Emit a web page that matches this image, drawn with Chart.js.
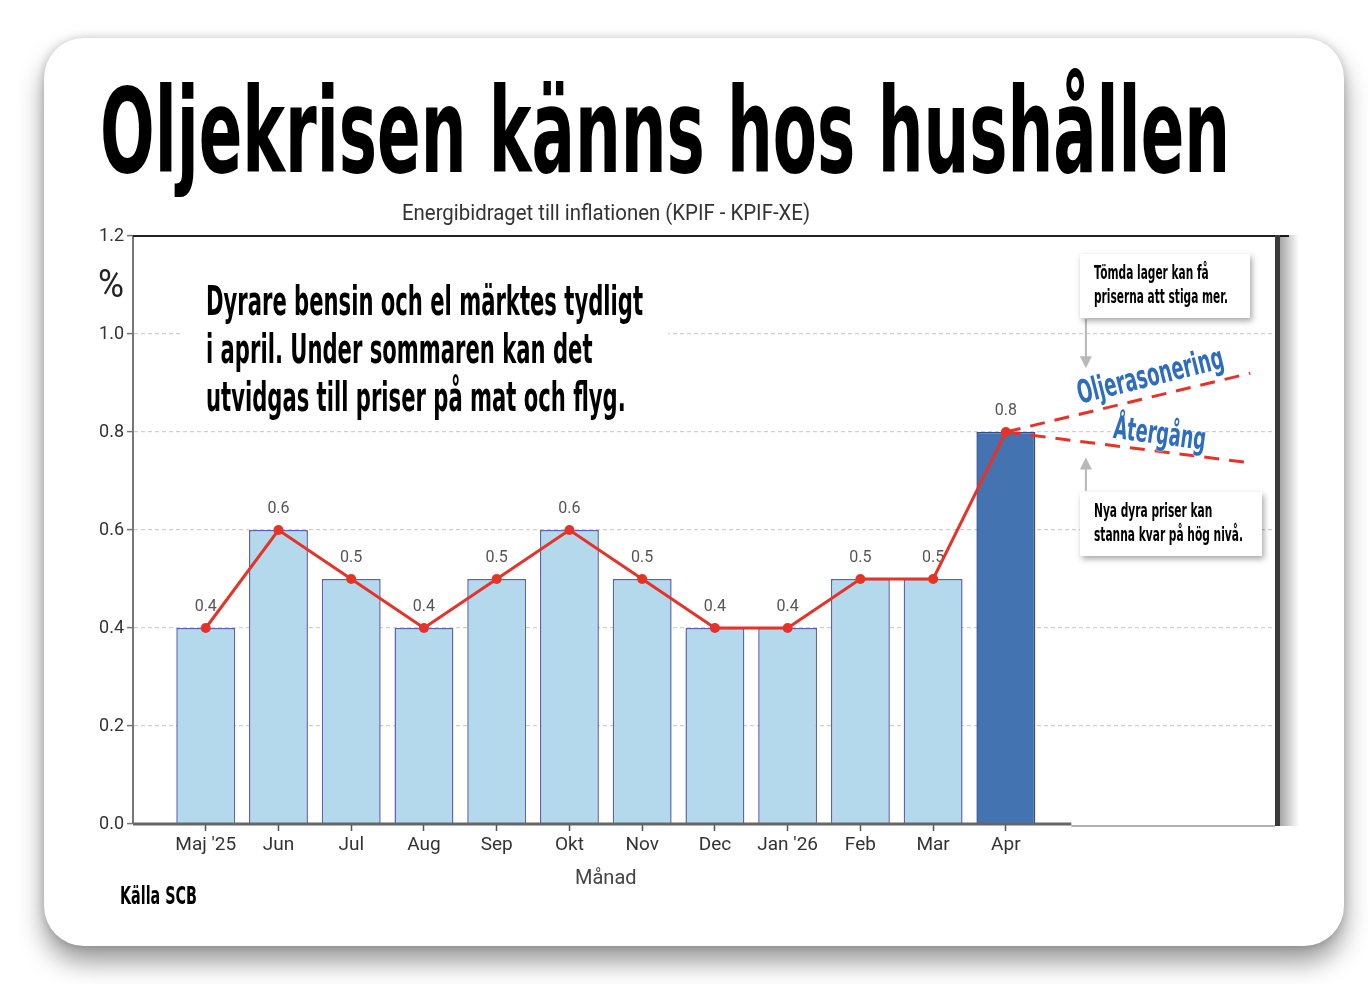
<!DOCTYPE html>
<html lang="sv"><head><meta charset="utf-8">
<script src="https://cdn.jsdelivr.net/npm/chart.js@4.4.1/dist/chart.umd.min.js"></script>
<style>
html,body{margin:0;padding:0;background:#fff;width:1368px;height:984px;overflow:hidden;}
#card{position:absolute;left:44px;top:38px;width:1300px;height:908px;background:#fff;border-radius:40px;
  box-shadow:0 16px 26px rgba(0,0,0,0.40),0 0 10px rgba(0,0,0,0.18);}
#cv{position:absolute;left:0;top:0;}
.ov{position:absolute;white-space:nowrap;transform-origin:0 0;
  font-family:'DejaVu Sans','Roboto',sans-serif;}
.b{font-weight:bold;}
#title{left:100px;top:73px;font-size:117px;line-height:117px;color:#000;}
#sub{font-size:22px;line-height:26px;color:#333;font-family:'Roboto',sans-serif;}
#pct{left:98px;top:264px;font-size:38px;line-height:40px;color:#222;font-family:'Roboto',sans-serif;}
#maskBox{position:absolute;left:182px;top:270px;width:486px;height:150px;background:#fff;}
#para{left:206px;top:277px;font-size:40px;line-height:48px;color:#000;}
.box{position:absolute;background:#fff;box-shadow:2px 3px 6px rgba(0,0,0,0.35);}
.boxtxt{font-size:19px;line-height:24px;color:#000;}
.blue{font-size:32px;line-height:36px;color:#2d6cbf;font-weight:bold;
  text-shadow:0 0 2px #fff,0 0 2px #fff;}
#src{left:120px;top:881px;font-size:24px;line-height:30px;color:#000;}
</style></head>
<body>
<div id="card"></div>
<canvas id="cv" width="1368" height="984"></canvas>
<div class="ov b" id="title">Oljekrisen känns hos hushållen</div>
<div class="ov" id="sub">Energibidraget till inflationen (KPIF - KPIF-XE)</div>
<div class="ov" id="pct">%</div>
<div id="maskBox"></div>
<div class="ov b" id="para"><div>Dyrare bensin och el märktes tydligt</div><div>i april. Under sommaren kan det</div><div>utvidgas till priser på mat och flyg.</div></div>
<div class="box" style="left:1080px;top:254px;width:170px;height:64px;"></div>
<div class="ov b boxtxt" id="bt1" style="left:1094px;top:260px;"><div>Tömda lager kan få</div><div>priserna att stiga mer.</div></div>
<div class="box" style="left:1080px;top:492px;width:182px;height:64px;"></div>
<div class="ov b boxtxt" id="bt2" style="left:1094px;top:498px;"><div>Nya dyra priser kan</div><div>stanna kvar på hög nivå.</div></div>
<div class="ov blue" id="blueUp" style="left:0;top:0;">Oljerasonering</div>
<div class="ov blue" id="blueDown" style="left:0;top:0;">Återgång</div>
<div class="ov b" id="src">Källa SCB</div>
<script>
const months = ["Maj '25","Jun","Jul","Aug","Sep","Okt","Nov","Dec","Jan '26","Feb","Mar","Apr"];
const values = [0.4,0.6,0.5,0.4,0.5,0.6,0.5,0.4,0.4,0.5,0.5,0.8];
const highlightMonth = "Apr";
const yTicks = [0.0,0.2,0.4,0.6,0.8,1.0,1.2];
const scenarioX = [11, 14.36];
const upperScenario = [0.8, 0.92];
const lowerScenario = [0.8, 0.737];

const FONT = "'Roboto',sans-serif";
const barFill = months.map(m => m === highlightMonth ? '#4473b2' : '#b4d9ed');
const barBorder = months.map(m => m === highlightMonth ? '#2f4f92' : '#5b63b3');

const valueLabels = {
  id: 'valueLabels',
  afterDatasetDraw(chart, args) {
    if (args.index !== 0) return;
    const ctx = chart.ctx;
    ctx.save();
    ctx.font = '16px ' + FONT;
    ctx.fillStyle = '#555';
    ctx.textAlign = 'center';
    ctx.textBaseline = 'middle';
    args.meta.data.forEach((bar, i) => {
      ctx.fillText(values[i].toFixed(1), bar.x, bar.y - 21);
    });
    ctx.restore();
  }
};

const frame = {
  id: 'frame',
  afterDraw(chart) {
    const ctx = chart.ctx, a = chart.chartArea, xs = chart.scales.x, ys = chart.scales.y;
    ctx.save();
    ctx.strokeStyle = '#222'; ctx.lineWidth = 2;
    ctx.beginPath(); ctx.moveTo(a.left, a.top); ctx.lineTo(a.right + 14, a.top); ctx.stroke();
    const x0 = ys.getPixelForValue(0);
    const split = xs.getPixelForValue(11.9);
    ctx.strokeStyle = '#666'; ctx.lineWidth = 3;
    ctx.beginPath(); ctx.moveTo(a.left, x0); ctx.lineTo(split, x0); ctx.stroke();
    ctx.strokeStyle = '#999'; ctx.lineWidth = 1.5;
    ctx.beginPath(); ctx.moveTo(split, x0 + 2); ctx.lineTo(a.right, x0 + 2); ctx.stroke();
    ctx.fillStyle = '#3a3a3a';
    ctx.fillRect(a.right, a.top - 1, 5, a.bottom - a.top + 3);
    const g = ctx.createLinearGradient(a.right + 5, 0, a.right + 24, 0);
    g.addColorStop(0, 'rgba(0,0,0,0.35)'); g.addColorStop(1, 'rgba(0,0,0,0)');
    ctx.fillStyle = g;
    ctx.fillRect(a.right + 5, a.top - 1, 19, a.bottom - a.top + 3);
    ctx.font = '20px ' + FONT; ctx.fillStyle = '#444';
    ctx.textAlign = 'center'; ctx.textBaseline = 'middle';
    ctx.fillText('Månad', xs.getPixelForValue((months.length - 1) / 2), 879);
    const ax = xs.getPixelForValue(12.1);
    ctx.strokeStyle = '#b8b8b8'; ctx.fillStyle = '#b8b8b8'; ctx.lineWidth = 2;
    const arrow = (yFrom, yTo) => {
      const p1 = ys.getPixelForValue(yFrom), p2 = ys.getPixelForValue(yTo);
      const dir = p2 > p1 ? 1 : -1;
      ctx.beginPath(); ctx.moveTo(ax, p1); ctx.lineTo(ax, p2 - dir * 10); ctx.stroke();
      ctx.beginPath(); ctx.moveTo(ax, p2); ctx.lineTo(ax - 6, p2 - dir * 12); ctx.lineTo(ax + 6, p2 - dir * 12); ctx.closePath(); ctx.fill();
    };
    arrow(1.03, 0.93);
    arrow(0.68, 0.748);
    ctx.restore();
  }
};

const chart = new Chart(document.getElementById('cv'), {
  type: 'bar',
  data: {
    datasets: [
      {
        type: 'bar', order: 3,
        data: months.map((m, i) => ({ x: i, y: values[i] })),
        backgroundColor: barFill, borderColor: barBorder, borderWidth: 1.5,
        categoryPercentage: 1, barPercentage: 0.81
      },
      {
        type: 'line', order: 2,
        data: months.map((m, i) => ({ x: i, y: values[i] })),
        borderColor: '#e5332a', backgroundColor: '#e5332a', borderWidth: 3,
        pointRadius: 5, pointBackgroundColor: '#e5332a', pointBorderWidth: 0, tension: 0
      },
      {
        type: 'line', order: 1,
        data: scenarioX.map((x, i) => ({ x, y: upperScenario[i] })),
        borderColor: '#e5332a', borderWidth: 3, borderDash: [15, 10], pointRadius: 0
      },
      {
        type: 'line', order: 1,
        data: scenarioX.map((x, i) => ({ x, y: lowerScenario[i] })),
        borderColor: '#e5332a', borderWidth: 3, borderDash: [15, 10], pointRadius: 0
      }
    ]
  },
  options: {
    responsive: false, animation: false, devicePixelRatio: 1,
    layout: { padding: { left: 0, top: 236, right: 93, bottom: 120 } },
    plugins: { legend: { display: false }, tooltip: { enabled: false }, title: { display: false } },
    scales: {
      x: {
        type: 'linear', min: -1, max: 14.7, offset: false,
        afterBuildTicks: s => { s.ticks = months.map((m, i) => ({ value: i })); },
        afterFit: s => { s.height = 40; },
        ticks: { callback: v => months[v], autoSkip: false, maxRotation: 0, font: { family: FONT, size: 19 }, color: '#333', padding: 3 },
        grid: { offset: false, drawOnChartArea: false, tickLength: 7, tickColor: '#555', tickWidth: 1.5 },
        border: { display: false }
      },
      y: {
        min: 0, max: 1.2,
        afterBuildTicks: s => { s.ticks = yTicks.map(v => ({ value: v })); },
        afterFit: s => { s.width = 133; },
        ticks: { callback: v => v.toFixed(1), font: { family: FONT, size: 18 }, color: '#333', padding: 3 },
        grid: {
          color: c => (c.tick && (c.tick.value < 0.01 || c.tick.value > 1.19)) ? 'rgba(0,0,0,0)' : '#d0d0d0',
          lineWidth: 1.2, tickColor: '#777', tickLength: 6, tickWidth: 1.5
        },
        border: { color: '#777', width: 2, dash: [4, 3] }
      }
    }
  },
  plugins: [valueLabels, frame]
});

function fit(id, target) {
  const el = document.getElementById(id);
  const w = el.getBoundingClientRect().width;
  el.style.transform = 'scaleX(' + (target / w) + ')';
  return el;
}
fit('title', 1130);
fit('para', 437);
fit('bt1', 134);
fit('bt2', 149);
fit('pct', 26);
fit('src', 77);
const sub = document.getElementById('sub');
const sw = sub.getBoundingClientRect().width;
const cx = chart.scales.x.getPixelForValue((months.length - 1) / 2);
sub.style.left = (cx - 204) + 'px';
sub.style.top = '200px';
sub.style.transform = 'scaleX(' + (408 / sw) + ')';

function placeBlue(id, cxp, cyp, deg, target) {
  const el = document.getElementById(id);
  const w = el.getBoundingClientRect().width;
  el.style.transform = 'translate(' + cxp + 'px,' + cyp + 'px) rotate(' + deg + 'deg) scaleX(' + (target / w) + ') translate(-50%,-50%)';
}
placeBlue('blueUp', 1150, 375, -14, 150);
placeBlue('blueDown', 1160, 433, 7.5, 93);
</script>
</body></html>
